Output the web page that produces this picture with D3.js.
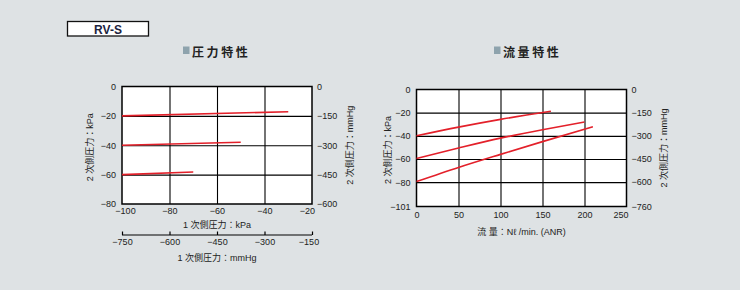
<!DOCTYPE html>
<html><head><meta charset="utf-8">
<script src="https://cdn.jsdelivr.net/npm/d3@7"></script>
<style>
html,body{margin:0;padding:0;background:#dee2e4;}
svg{display:block;}
text{font-family:"Liberation Sans",Arial,"Noto Sans CJK JP",sans-serif;fill:#222;}
.cjk{font-family:"Liberation Sans","Noto Sans CJK JP",sans-serif;}
</style></head><body>
<svg id="c" width="740" height="290"></svg>
<script>
// ---------- DATA ----------
const title = "RV-S";
const leftTitle = "圧力特性";
const rightTitle = "流量特性";

// Pressure characteristics: primary pressure (kPa) -> secondary pressure (kPa)
const pressureLine1 = [[-100, -20], [-30, -17.2]];
const pressureLine2 = [[-100, -40], [-50, -38]];
const pressureLine3 = [[-100, -60], [-70, -58.2]];

// Flow characteristics: flow (Nl/min) -> secondary pressure (kPa)
const flowLine1 = [[0, -40], [50, -32.5], [100, -25.8], [160, -18.8]];
const flowLine2 = [[0, -59.5], [50, -50.5], [100, -42], [150, -34.7], [200, -28]];
const flowLine3 = [[0, -79.5], [50, -67.3], [100, -56], [150, -45], [210, -32.2]];

const pXTicks = [-100, -80, -60, -40, -20];
const pYTicks = [0, -20, -40, -60, -80];
const pYmmTicks = [0, -150, -300, -450, -600];
const pXmmTicks = [-750, -600, -450, -300, -150];
const fXTicks = [0, 50, 100, 150, 200, 250];
const fYTicks = [0, -20, -40, -60, -80, -101];
const fYmmTicks = [0, -150, -300, -450, -600, -760];

// ---------- DRAW ----------
const svg = d3.select("#c");
const fmt = v => String(v).replace("-", "\u2212");
const red = "#e3202a";

// title box
svg.append("rect").attr("x", 67.5).attr("y", 21.5).attr("width", 81).attr("height", 14.5)
  .attr("fill", "#fff").attr("stroke", "#111").attr("stroke-width", 1.3);
svg.append("text").attr("x", 108).attr("y", 33.5).attr("text-anchor", "middle")
  .attr("font-size", 12).attr("font-weight", "bold").style("fill", "#1c2340").text(title);

function heading(x, txt) {
  svg.append("rect").attr("x", x).attr("y", 46.5).attr("width", 6.5).attr("height", 7.5).attr("fill", "#8ea3ad");
  svg.append("text").attr("class", "cjk").attr("x", x + 9).attr("y", 56.5)
    .attr("font-size", 12).attr("font-weight", "bold").attr("letter-spacing", 2.6)
    .style("fill", "#222").text(txt);
}
heading(183, leftTitle);
heading(494, rightTitle);

function panel(o) {
  const g = svg.append("g");
  const x = d3.scaleLinear().domain(o.xDomain).range([o.x0, o.x1]);
  const y = d3.scaleLinear().domain(o.yDomain).range([o.y0, o.y1]);
  const y2 = d3.scaleLinear().domain(o.y2Domain).range([o.y0, o.y1]);
  g.append("rect").attr("x", o.x0).attr("y", o.y0).attr("width", o.x1 - o.x0).attr("height", o.y1 - o.y0)
    .attr("fill", "#fff");
  // grid
  g.append("g").attr("transform", `translate(0,${o.y1})`)
    .call(d3.axisBottom(x).tickValues(o.xTicks.slice(1, -1)).tickSize(-(o.y1 - o.y0)).tickFormat(""))
    .call(s => s.select(".domain").remove())
    .call(s => s.selectAll("line").attr("stroke", "#000").attr("stroke-width", 1.1));
  g.append("g").attr("transform", `translate(${o.x0},0)`)
    .call(d3.axisLeft(y).tickValues(o.yTicks.slice(1, -1)).tickSize(-(o.x1 - o.x0)).tickFormat(""))
    .call(s => s.select(".domain").remove())
    .call(s => s.selectAll("line").attr("stroke", "#000").attr("stroke-width", 1.1));
  g.append("rect").attr("x", o.x0).attr("y", o.y0).attr("width", o.x1 - o.x0).attr("height", o.y1 - o.y0)
    .attr("fill", "none").attr("stroke", "#000").attr("stroke-width", 1.5);
  // tick labels
  const ax = (gen, t) => { t.call(gen); t.select(".domain").remove(); t.selectAll("line").remove();
    t.selectAll("text").attr("font-size", 9).attr("font-family", null).style("fill", "#222"); return t; };
  const xt = ax(d3.axisBottom(x).tickValues(o.xTicks).tickSize(0).tickPadding(o.xPad).tickFormat(fmt),
     g.append("g").attr("transform", `translate(0,${o.y1})`));
  xt.selectAll("text").attr("dx", (d, i, n) => i === 0 ? o.firstDx : (i === n.length - 1 ? o.lastDx : 0));
  ax(d3.axisLeft(y).tickValues(o.yTicks).tickSize(0).tickPadding(6).tickFormat(fmt),
     g.append("g").attr("transform", `translate(${o.x0},0)`));
  ax(d3.axisRight(y2).tickValues(o.y2Ticks).tickSize(0).tickPadding(5).tickFormat(fmt),
     g.append("g").attr("transform", `translate(${o.x1},0)`));
  // lines
  const line = d3.line().x(d => x(d[0])).y(d => y(d[1])).curve(d3.curveMonotoneX);
  o.series.forEach(s => g.append("path").datum(s).attr("d", line)
    .attr("fill", "none").attr("stroke", red).attr("stroke-width", 1.6));
  // axis titles
  const cy = (o.y0 + o.y1) / 2;
  g.append("text").attr("class", "cjk").attr("font-size", 9).attr("text-anchor", "middle")
    .attr("transform", `translate(${o.yLabelX},${cy + 2}) rotate(-90)`).text("2 次側圧力：kPa");
  g.append("text").attr("class", "cjk").attr("font-size", 9).attr("text-anchor", "middle")
    .attr("transform", `translate(${o.y2LabelX},${cy}) rotate(-90)`).text("2 次側圧力：mmHg");
  g.append("text").attr("class", "cjk").attr("font-size", 9).attr("text-anchor", "middle")
    .attr("x", (o.x0 + o.x1) / 2).attr("y", o.xLabelY).text(o.xLabel);
  return {g, x};
}

panel({
  x0: 122, x1: 312, y0: 86.5, y1: 204,
  xDomain: [-100, -20], yDomain: [0, -80], y2Domain: [0, -600],
  xTicks: pXTicks, yTicks: pYTicks, y2Ticks: pYmmTicks,
  xPad: 4, firstDx: 3, lastDx: -5,
  series: [pressureLine1, pressureLine2, pressureLine3],
  yLabelX: 93, y2LabelX: 353, xLabelY: 228, xLabel: "1 次側圧力：kPa"
});
// second x axis (mmHg)
{
  const xm = d3.scaleLinear().domain([-750, -150]).range([122, 312]);
  const g = svg.append("g").attr("transform", "translate(0,235)");
  g.call(d3.axisTop(xm).tickValues(pXmmTicks).tickSize(3.5).tickFormat(""));
  g.select(".domain").attr("d", "M122,0H312").attr("stroke", "#000").attr("stroke-width", 1.2);
  g.selectAll("line").attr("stroke", "#000").attr("stroke-width", 1.2);
  const gl = svg.append("g").attr("transform", "translate(0,235)");
  gl.call(d3.axisBottom(xm).tickValues(pXmmTicks).tickSize(0).tickPadding(4).tickFormat(fmt));
  gl.select(".domain").remove();
  gl.selectAll("text").attr("font-size", 9).attr("font-family", null).style("fill", "#222")
    .attr("dx", (d, i, n) => i === n.length - 1 ? -3.5 : 0);
  svg.append("text").attr("class", "cjk").attr("font-size", 9).attr("text-anchor", "middle")
    .attr("x", 217).attr("y", 261).text("1 次側圧力：mmHg");
}

panel({
  x0: 416.5, x1: 626.5, y0: 89.5, y1: 206.5,
  xDomain: [0, 250], yDomain: [0, -101], y2Domain: [0, -760],
  xTicks: fXTicks, yTicks: fYTicks, y2Ticks: fYmmTicks,
  xPad: 5, firstDx: 0, lastDx: -6,
  series: [flowLine1, flowLine2, flowLine3],
  yLabelX: 391, y2LabelX: 667, xLabelY: 235, xLabel: "流 量：Nℓ /min. (ANR)"
});
</script>
</body></html>
